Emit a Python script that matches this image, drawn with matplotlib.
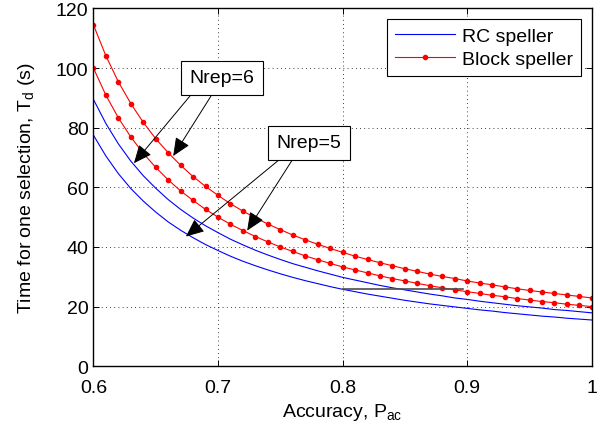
import numpy as np
import matplotlib
matplotlib.use("Agg")
import matplotlib.pyplot as plt

plt.rcParams['font.family'] = ['Liberation Sans', 'DejaVu Sans']
plt.rcParams['mathtext.default'] = 'regular'

# ---- data (accuracy step 0.01) ----
acc = np.round(np.arange(0.60, 1.0001, 0.01), 2)

rc_nrep6 = [89.5, 81.4, 74.6, 68.8, 63.9, 59.7, 55.9, 52.6, 49.7, 47.1,
            44.8, 42.6, 40.7, 38.9, 37.3, 35.8, 34.4, 33.2, 32.0, 30.9,
            29.8, 28.9, 28.0, 27.1, 26.3, 25.6, 24.9, 24.2, 23.6, 22.9,
            22.4, 21.8, 21.3, 20.8, 20.3, 19.9, 19.5, 19.0, 18.7, 18.3, 17.9]
rc_nrep5 = [77.5, 70.5, 64.6, 59.6, 55.4, 51.7, 48.4, 45.6, 43.1, 40.8,
            38.8, 36.9, 35.2, 33.7, 32.3, 31.0, 29.8, 28.7, 27.7, 26.7,
            25.8, 25.0, 24.2, 23.5, 22.8, 22.1, 21.5, 20.9, 20.4, 19.9,
            19.4, 18.9, 18.5, 18.0, 17.6, 17.2, 16.8, 16.5, 16.1, 15.8, 15.5]
block_nrep6 = [114.5, 104.1, 95.4, 88.1, 81.8, 76.3, 71.6, 67.4, 63.6, 60.3,
               57.3, 54.5, 52.0, 49.8, 47.7, 45.8, 44.0, 42.4, 40.9, 39.5,
               38.2, 36.9, 35.8, 34.7, 33.7, 32.7, 31.8, 30.9, 30.1, 29.4,
               28.6, 27.9, 27.3, 26.6, 26.0, 25.4, 24.9, 24.4, 23.9, 23.4, 22.9]
block_nrep5 = [100.0, 90.9, 83.3, 76.9, 71.4, 66.7, 62.5, 58.8, 55.6, 52.6,
               50.0, 47.6, 45.5, 43.5, 41.7, 40.0, 38.5, 37.0, 35.7, 34.5,
               33.3, 32.3, 31.3, 30.3, 29.4, 28.6, 27.8, 27.0, 26.3, 25.6,
               25.0, 24.4, 23.8, 23.3, 22.7, 22.2, 21.7, 21.3, 20.8, 20.4, 20.0]

# stray horizontal segment in the original figure
seg_x = [0.80, 0.897]
seg_y = [26.0, 26.0]

# annotation boxes and arrow (tail -> head) positions
labels = ["Nrep=6", "Nrep=5"]
label_xy = [(0.703, 96.7), (0.773, 74.9)]
arrows = [
    [((0.6774, 90.6), (0.6325, 68.1)), ((0.6943, 90.6), (0.664, 70.5))],
    [((0.7483, 69.0), (0.6742, 43.5)), ((0.759, 68.8), (0.7234, 45.5))],
]

fig = plt.figure(figsize=(5.99, 4.31), dpi=100)
ax = fig.add_axes([0.156, 0.148, 0.832, 0.83])

ax.plot(acc, rc_nrep6, color="blue", lw=0.8, label="RC speller")
ax.plot(acc, rc_nrep5, color="blue", lw=0.8)
ax.plot(acc, block_nrep6, color="red", lw=0.8, marker="o", ms=3.0,
        mec="red", mfc="red", label="Block speller")
ax.plot(acc, block_nrep5, color="red", lw=0.8, marker="o", ms=3.0,
        mec="red", mfc="red")
ax.plot(seg_x, seg_y, color="0.3", lw=1.2)

for arr in arrows:
    for tail, head in arr:
        ax.annotate("", xy=head, xytext=tail,
                    arrowprops=dict(arrowstyle="-|>,head_length=0.8,head_width=0.35",
                                    mutation_scale=14, color="black", lw=0.7,
                                    shrinkA=0, shrinkB=0))
for lab, (tx, ty) in zip(labels, label_xy):
    ax.text(tx, ty, lab, fontsize=14, ha="center", va="center", zorder=5,
            bbox=dict(boxstyle="square,pad=0.45", fc="white", ec="black", lw=0.8))

ax.set_xlim(0.6, 1.0)
ax.set_ylim(0, 120)
ax.set_xticks([0.6, 0.7, 0.8, 0.9, 1.0])
ax.set_xticklabels(["0.6", "0.7", "0.8", "0.9", "1"])
ax.set_yticks(np.arange(0, 121, 20))
ax.tick_params(direction="in", length=4, width=0.7, labelsize=14,
               top=True, right=True)
ax.tick_params(axis="x", pad=9)
ax.grid(True, color="black", linestyle=(0, (1, 4)), lw=0.6)
for sp in ax.spines.values():
    sp.set_linewidth(1.0)

ax.set_xlabel("Accuracy, P$_{ac}$", fontsize=14, labelpad=4)
ax.set_ylabel("Time for one selection, T$_d$ (s)", fontsize=14, labelpad=14)

leg = ax.legend(loc="upper right", fontsize=14, frameon=True, fancybox=False,
                edgecolor="black", handlelength=3.1, handletextpad=0.35,
                labelspacing=0.3, borderpad=0.4, borderaxespad=0.55,
                markerscale=1.0)
leg.get_frame().set_linewidth(0.8)
leg.get_frame().set_alpha(1.0)

fig.savefig("out.png", dpi=100)
